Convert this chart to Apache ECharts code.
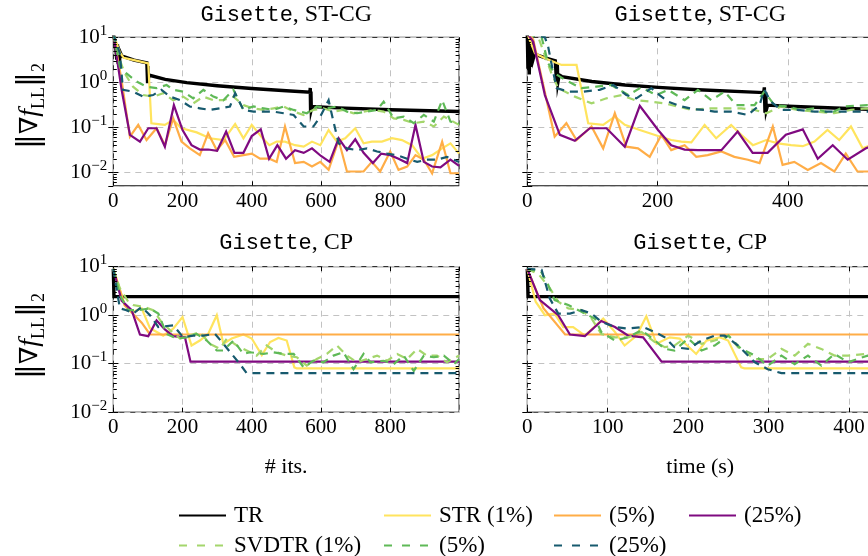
<!DOCTYPE html>
<html><head><meta charset="utf-8">
<script src="https://cdn.jsdelivr.net/npm/echarts@6/dist/echarts.min.js"></script>
<style>html,body{margin:0;padding:0;background:#fff}#c{width:868px;height:556px}</style>
</head><body><div id="c"></div>
<script>
// ---------- DATA ----------
// Panel 1: Gisette, ST-CG vs iterations
const stcgIts_TR = [[0,12],[6,7.5],[10,3.2],[12,7.0],[14,2.6],[16,5.5],[18,3.0],[20,4.6],[24,3.9],[30,3.7],[60,3.1],[97,2.7],[98,2.95],[99,0.95],[100,2.3],[101,1.0],[102,1.45],[104,1.35],[150,1.16],[212,0.98],[300,0.84],[400,0.73],[500,0.65],[568,0.60],[569,0.75],[570,0.22],[571,0.62],[572,0.25],[574,0.29],[650,0.27],[800,0.245],[999,0.225]];
const stcgIts_STR1 = [[0,12],[19,4.6],[30,3.5],[60,3.1],[101,2.64],[110,0.123],[130,0.118],[149,0.113],[173,0.146],[197,0.095],[241,0.077],[279,0.057],[318,0.052],[352,0.118],[376,0.057],[400,0.113],[429,0.060],[451,0.040],[472,0.048],[496,0.048],[525,0.040],[550,0.037],[574,0.048],[598,0.040],[622,0.087],[646,0.048],[670,0.057],[699,0.095],[723,0.044],[747,0.048],[776,0.048],[805,0.057],[834,0.052],[863,0.040],[892,0.020],[921,0.024],[950,0.034],[974,0.044],[999,0.026]];
const stcgIts_STR5 = [[0,12],[24,1.1],[48,0.062],[72,0.113],[96,0.052],[125,0.095],[149,0.040],[173,0.158],[197,0.048],[221,0.034],[250,0.024],[274,0.074],[299,0.031],[323,0.052],[349,0.022],[376,0.024],[400,0.026],[424,0.020],[451,0.020],[472,0.017],[496,0.104],[525,0.016],[550,0.017],[574,0.0134],[598,0.017],[622,0.0113],[651,0.052],[675,0.0104],[699,0.0104],[723,0.0104],[747,0.017],[771,0.0104],[800,0.029],[824,0.0113],[849,0.0134],[873,0.024],[897,0.019],[921,0.0095],[950,0.048],[974,0.0095],[999,0.0095]];
const stcgIts_STR25 = [[0,12],[24,0.68],[48,0.068],[77,0.048],[101,0.095],[125,0.095],[149,0.037],[175,0.31],[200,0.087],[226,0.040],[250,0.032],[274,0.032],[300,0.030],[326,0.080],[350,0.027],[376,0.027],[400,0.064],[426,0.090],[450,0.020],[474,0.040],[499,0.020],[525,0.031],[550,0.027],[574,0.034],[600,0.023],[625,0.017],[651,0.057],[675,0.031],[699,0.054],[723,0.027],[750,0.016],[774,0.026],[800,0.024],[824,0.020],[849,0.016],[873,0.113],[897,0.017],[921,0.0134],[945,0.0129],[974,0.019],[999,0.0138]];
const stcgIts_SVD1 = [[0,12],[19,3.13],[33,1.58],[57,0.80],[86,0.52],[115,0.48],[144,0.57],[173,0.40],[202,0.48],[231,0.34],[260,0.48],[289,0.40],[318,0.40],[347,0.48],[376,0.31],[405,0.264],[434,0.243],[463,0.264],[492,0.29],[521,0.223],[550,0.188],[578,0.243],[607,0.264],[636,0.223],[665,0.243],[694,0.205],[723,0.223],[752,0.243],[781,0.223],[810,0.158],[839,0.146],[868,0.123],[897,0.134],[926,0.104],[955,0.173],[999,0.113]];
const stcgIts_SVD5 = [[0,12],[19,2.23],[38,1.58],[67,1.04],[96,0.80],[125,0.74],[154,0.87],[173,0.68],[202,0.62],[231,0.44],[260,0.68],[289,0.48],[318,0.40],[347,0.68],[376,0.243],[405,0.29],[434,0.264],[463,0.243],[492,0.29],[521,0.243],[559,0.205],[588,0.29],[617,0.264],[646,0.29],[675,0.223],[704,0.205],[733,0.223],[762,0.243],[781,0.37],[810,0.158],[839,0.173],[868,0.123],[897,0.188],[926,0.134],[950,0.40],[974,0.134],[999,0.123]];
const stcgIts_SVD25 = [[0,12],[19,4.41],[28,0.68],[57,0.62],[86,0.48],[115,0.52],[139,0.68],[164,0.48],[193,0.40],[221,0.29],[250,0.264],[279,0.243],[308,0.264],[337,0.29],[352,0.57],[376,0.243],[405,0.223],[434,0.223],[463,0.223],[492,0.205],[521,0.188],[550,0.104],[578,0.104],[598,0.173],[622,0.40],[636,0.134],[651,0.044],[675,0.034],[704,0.031],[733,0.034],[762,0.029],[791,0.026],[820,0.024],[849,0.020],[878,0.017],[906,0.019],[935,0.019],[964,0.022],[999,0.017]];

// Panel 2: Gisette, ST-CG vs time (s)
const stcgTime_TR = [[0,12],[1,2.0],[2,9],[3,1.5],[4,6],[5,2.2],[6,8],[7,2.8],[8,5],[9,3.3],[11,4.2],[14,3.9],[30,3.4],[43,3.0],[44,3.2],[45,0.95],[46,2.6],[47,1.0],[49,1.45],[53,1.34],[99,1.04],[150,0.87],[201,0.77],[262,0.68],[363,0.59],[364,0.77],[365,0.21],[366,0.6],[367,0.24],[369,0.31],[410,0.29],[531,0.25]];
const stcgTime_STR1 = [[0,12],[11.7,4.41],[27,3.41],[52.6,2.43],[75.6,2.43],[93.5,0.123],[116.5,0.113],[134.4,0.173],[149.7,0.113],[172.7,0.087],[200.8,0.064],[221,0.052],[236.5,0.048],[251.9,0.046],[272.3,0.113],[290,0.057],[313,0.113],[328.5,0.068],[346.4,0.040],[366.8,0.052],[384.7,0.044],[405,0.040],[423,0.038],[441,0.048],[461,0.087],[479,0.052],[497,0.104],[515,0.034],[531,0.042]];
const stcgTime_STR5 = [[0,12],[9,9],[42,0.062],[60,0.123],[75.6,0.052],[98.6,0.104],[116.5,0.034],[134.4,0.205],[152,0.037],[170,0.034],[188,0.022],[206,0.068],[221,0.031],[241.6,0.040],[259.5,0.022],[277,0.024],[298,0.029],[318,0.022],[338.7,0.019],[356.6,0.016],[377,0.104],[392,0.0146],[410,0.017],[430.7,0.0113],[451,0.016],[471.5,0.0104],[489,0.026],[507,0.0104],[531,0.0104]];
const stcgTime_STR25 = [[0,12],[9,8],[27,0.52],[50,0.068],[73,0.050],[96,0.095],[121.6,0.095],[149.7,0.037],[172.7,0.30],[200.8,0.087],[221,0.040],[241.6,0.032],[262,0.031],[277,0.031],[298,0.031],[323,0.080],[346,0.027],[369,0.027],[397,0.068],[423,0.090],[446,0.020],[469,0.040],[492,0.019],[520,0.034],[531,0.040]];
const stcgTime_SVD1 = [[0,12],[17,10],[37,1.58],[47.5,0.74],[73,0.48],[98.6,0.34],[121.6,0.44],[144.6,0.52],[165,0.40],[190.5,0.37],[211,0.34],[231,0.29],[252,0.243],[277,0.264],[303,0.264],[328.5,0.264],[349,0.243],[367,0.205],[390,0.29],[415,0.243],[441,0.223],[471.5,0.205],[497,0.243],[520,0.264],[531,0.25]];
const stcgTime_SVD5 = [[0,12],[22,10],[32,2.64],[42,1.58],[58,1.13],[83,0.74],[106,0.80],[129,0.87],[155,0.52],[175,0.77],[198,0.52],[216,0.68],[241.6,0.40],[262,0.68],[282.5,0.40],[303,0.62],[321,0.31],[349,0.31],[364,0.62],[379.6,0.31],[400,0.29],[420,0.243],[441,0.264],[466,0.205],[487,0.29],[522,0.31],[531,0.30]];
const stcgTime_SVD25 = [[0,12],[27,10],[32,6.2],[37,2.64],[45,0.74],[63,0.62],[86,0.62],[111,0.68],[132,0.87],[152,0.52],[167.5,0.44],[190.5,0.74],[203,0.52],[216,0.37],[236.5,0.29],[257,0.25],[272,0.243],[287.6,0.223],[313,0.223],[338.7,0.188],[356.6,0.31],[364,0.68],[374,0.37],[390,0.243],[415,0.243],[441,0.223],[466,0.223],[492,0.223],[531,0.223]];

// Panel 3: Gisette, CP vs iterations
const cpIts_TR = [[0,9],[2,2.41],[999,2.41]];
const cpIts_STR1 = [[0,9],[33,1.62],[57,1.17],[82,1.38],[106,0.54],[144,0.38],[173,0.53],[200,0.92],[226,0.237],[250,0.30],[274,0.41],[299,1.0],[318,0.257],[342,0.33],[376,0.40],[400,0.33],[429,0.15],[453,0.28],[477,0.34],[501,0.30],[523,0.084],[530,0.080],[999,0.080]];
const cpIts_STR5 = [[0,9],[33,1.6],[82,0.7],[106,0.40],[999,0.40]];
const cpIts_STR25 = [[0,9],[24,2.0],[53,1.27],[77,0.40],[101,0.37],[125,0.78],[149,0.51],[173,0.37],[207,0.35],[223,0.11],[999,0.11]];
const cpIts_SVD1 = [[0,9],[19,3.59],[43,1.90],[57,1.62],[86,1.50],[115,1.27],[139,0.73],[164,0.49],[193,0.33],[221,0.38],[250,0.45],[279,0.257],[308,0.202],[328,0.33],[357,0.237],[385,0.187],[414,0.147],[443,0.237],[472,0.172],[501,0.147],[530,0.136],[559,0.091],[588,0.125],[617,0.159],[646,0.237],[675,0.147],[704,0.107],[733,0.125],[762,0.147],[791,0.115],[820,0.159],[849,0.125],[878,0.202],[906,0.147],[935,0.147],[964,0.107],[999,0.147]];
const cpIts_SVD5 = [[0,9],[19,2.6],[43,1.27],[72,1.27],[106,1.38],[130,1.08],[154,0.41],[183,0.33],[212,0.35],[241,0.41],[270,0.30],[299,0.187],[318,0.187],[347,0.30],[376,0.159],[395,0.172],[434,0.159],[463,0.172],[492,0.159],[521,0.159],[550,0.084],[578,0.115],[607,0.107],[636,0.147],[665,0.172],[694,0.077],[723,0.159],[743,0.107],[781,0.115],[810,0.098],[839,0.147],[868,0.071],[897,0.147],[926,0.136],[955,0.147],[984,0.098],[999,0.125]];
const cpIts_SVD25 = [[0,9],[19,1.38],[38,1.27],[57,1.08],[82,1.47],[106,1.0],[130,0.57],[173,0.62],[202,0.35],[231,0.38],[260,0.38],[294,0.41],[318,0.257],[342,0.159],[366,0.098],[385,0.064],[999,0.064]];

// Panel 4: Gisette, CP vs time (s)
const cpTime_TR = [[0,9],[1,2.41],[431,2.41]];
const cpTime_STR1 = [[0,9],[10.4,1.90],[22,1.0],[34,1.08],[44.7,0.57],[57,0.57],[71.6,0.38],[94.4,0.85],[109,0.45],[121,0.237],[136,0.38],[148,0.95],[160.7,0.257],[177,0.35],[189.6,0.33],[210,0.159],[222.8,0.30],[239,0.35],[249.7,0.30],[266,0.084],[270,0.080],[431,0.080]];
const cpTime_STR5 = [[0,9],[20,1.4],[47,0.40],[431,0.40]];
const cpTime_STR25 = [[0,9],[15.7,2.05],[38.5,1.0],[53,0.40],[71.6,0.37],[92,0.76],[109,0.57],[125.5,0.38],[144,0.35],[167,0.11],[431,0.11]];
const cpTime_SVD1 = [[0,9],[14,7],[28,3.6],[38.5,1.90],[51,1.38],[67.5,1.27],[80,0.85],[92,0.41],[109,0.35],[125.5,0.35],[142,0.45],[158.6,0.28],[171,0.219],[183,0.237],[200,0.38],[216.6,0.257],[233,0.30],[250,0.38],[262,0.219],[283,0.125],[299,0.125],[316,0.202],[332.5,0.147],[349,0.257],[365.6,0.202],[382,0.147],[398.8,0.147],[423,0.159],[431,0.16]];
const cpTime_SVD5 = [[0,9],[17,8],[26,4.2],[34,2.05],[51,1.62],[67.5,1.17],[84,0.85],[92,0.45],[109,0.30],[125.5,0.35],[142,0.49],[158.6,0.30],[171,0.202],[183,0.187],[200,0.33],[216.6,0.187],[233,0.237],[250,0.38],[266,0.202],[283,0.147],[299,0.091],[316,0.147],[332.5,0.098],[349,0.147],[365.6,0.091],[382,0.159],[398.8,0.107],[423,0.147],[431,0.13]];
const cpTime_SVD25 = [[0,9],[17.8,8.6],[28,2.2],[38.5,1.08],[53,1.08],[67.5,1.27],[80,1.08],[92,0.73],[109,0.57],[125.5,0.53],[144,0.57],[158.6,0.45],[171,0.35],[183,0.219],[200,0.202],[216.6,0.30],[233,0.38],[245.5,0.38],[262,0.237],[283,0.107],[299,0.077],[316,0.064],[431,0.064]];

// Axis ranges and tick values
const xMaxes = [999, 531, 999, 430];
const xIntervals = [200, 200, 200, 100];
const yMins = [0.005, 0.005, 0.01, 0.01];
const yMax = 10;
const minorTicksTop = [0.006,0.007,0.008,0.009,0.02,0.03,0.04,0.05,0.06,0.07,0.08,0.09,0.2,0.3,0.4,0.5,0.6,0.7,0.8,0.9,2,3,4,5,6,7,8,9];
const minorTicksBottom = [0.02,0.03,0.04,0.05,0.06,0.07,0.08,0.09,0.2,0.3,0.4,0.5,0.6,0.7,0.8,0.9,2,3,4,5,6,7,8,9];

const seriesNames = ['TR','STR (1%)','STR (5%)','STR (25%)','SVDTR (1%)','SVDTR (5%)','SVDTR (25%)'];
const legendLabels = ['TR','STR (1%)','(5%)','(25%)','SVDTR (1%)','(5%)','(25%)'];
const titleMethods = ['ST-CG','ST-CG','CP','CP'];

const panelData = [
  [stcgIts_TR, stcgIts_STR1, stcgIts_STR5, stcgIts_STR25, stcgIts_SVD1, stcgIts_SVD5, stcgIts_SVD25],
  [stcgTime_TR, stcgTime_STR1, stcgTime_STR5, stcgTime_STR25, stcgTime_SVD1, stcgTime_SVD5, stcgTime_SVD25],
  [cpIts_TR, cpIts_STR1, cpIts_STR5, cpIts_STR25, cpIts_SVD1, cpIts_SVD5, cpIts_SVD25],
  [cpTime_TR, cpTime_STR1, cpTime_STR5, cpTime_STR25, cpTime_SVD1, cpTime_SVD5, cpTime_SVD25]
];

// ---------- STYLE / LAYOUT ----------
const SERIF = 'Liberation Serif';
const MONO = 'Liberation Mono';
const DASH = [8, 6];
const lineStyles = [
  {color:'#000000', width:3.4, type:'solid'},
  {color:'#ffe45e', width:2.2, type:'solid'},
  {color:'#ffad47', width:2.2, type:'solid'},
  {color:'#7f0a80', width:2.2, type:'solid'},
  {color:'#a4d66c', width:2.2, type:DASH},
  {color:'#5fb957', width:2.2, type:DASH},
  {color:'#175a6e', width:2.2, type:DASH}
];
const grids = [
  {left:113.3, top:37.3, width:345.8, height:148.5},
  {left:527.3, top:37.3, width:345.8, height:148.5},
  {left:113.3, top:266.7, width:345.8, height:145.5},
  {left:527.3, top:266.7, width:345.8, height:145.5}
];

function powLabel(v){
  const e = Math.round(Math.log10(v));
  return '{b|10}{s|' + (e < 0 ? '\u2212' + (-e) : e) + '}';
}
const powRich = {
  b:{fontFamily:SERIF, fontSize:21, color:'#000', lineHeight:28},
  s:{fontFamily:SERIF, fontSize:15, color:'#000', lineHeight:15, verticalAlign:'top'}
};

const option = {
  animation:false,
  backgroundColor:'#fff',
  textStyle:{fontFamily:SERIF},
  grid: grids.map(g => Object.assign({show:true, borderColor:'#000', borderWidth:1, backgroundColor:'transparent', containLabel:false, outerBoundsMode:'none'}, g)),
  xAxis: [], yAxis: [], series: [], legend: [], graphic: []
};

for (let p = 0; p < 4; p++) {
  const isLeft = (p % 2 === 0);
  option.xAxis.push({
    gridIndex:p, type:'value', position:'bottom', min:0, max:xMaxes[p], interval:xIntervals[p],
    axisLine:{show:false},
    axisTick:{show:true, inside:true, length:4.5, lineStyle:{color:'#000', width:1}},
    axisLabel:{show:true, showMaxLabel:false, margin:5, fontFamily:SERIF, fontSize:21, color:'#000'},
    splitLine:{show:true, lineStyle:{color:'#c2c2c2', width:1, type:[6,5]}}
  });
  option.xAxis.push({
    gridIndex:p, type:'value', position:'top', min:0, max:xMaxes[p], interval:xIntervals[p],
    axisLine:{show:false},
    axisTick:{show:true, inside:true, length:4.5, lineStyle:{color:'#000', width:1}},
    axisLabel:{show:false}, splitLine:{show:false}
  });
  option.yAxis.push({
    gridIndex:p, type:'log', logBase:10, position:'left', min:yMins[p], max:yMax,
    axisLine:{show:false},
    axisTick:{show:true, inside:true, length:5, lineStyle:{color:'#000', width:1}},
    axisLabel:{show:isLeft, showMinLabel: yMins[p] >= 0.01, margin:6, fontFamily:SERIF, formatter:powLabel, rich:powRich},
    splitLine:{show:true, lineStyle:{color:'#c2c2c2', width:1, type:[6,5]}}
  });
  option.yAxis.push({
    gridIndex:p, type:'log', logBase:10, position:'right', min:yMins[p], max:yMax,
    axisLine:{show:false},
    axisTick:{show:true, inside:true, length:5, lineStyle:{color:'#000', width:1}},
    axisLabel:{show:false}, splitLine:{show:false}
  });
  panelData[p].forEach((d, i) => {
    const st = lineStyles[i];
    option.series.push({
      type:'line', name:seriesNames[i], xAxisIndex:2*p, yAxisIndex:2*p, data:d,
      symbol:'none', showSymbol:false, clip:true, z:3+i,
      lineStyle:{color:st.color, width:st.width, type:st.type, cap:'butt', join:'miter'},
      itemStyle:{color:st.color}, emphasis:{disabled:true}
    });
  });
  const minors = (yMins[p] < 0.01 ? minorTicksTop : minorTicksBottom).map(v => [0, v]);
  option.series.push({
    type:'custom', xAxisIndex:2*p, yAxisIndex:2*p, data:minors, silent:true, z:20,
    renderItem:function(params, api){
      const pt = api.coord([api.value(0), api.value(1)]);
      const cs = params.coordSys;
      const y = Math.round(pt[1]) + 0.5;
      return {type:'group', children:[
        {type:'line', shape:{x1:cs.x, y1:y, x2:cs.x + 3.5, y2:y}, style:{stroke:'#000', lineWidth:1}},
        {type:'line', shape:{x1:cs.x + cs.width - 3.5, y1:y, x2:cs.x + cs.width, y2:y}, style:{stroke:'#000', lineWidth:1}}
      ]};
    }
  });
}

// Legend: two rows
const legendPos = [[178,511],[383,511],[553,511],[688,511],[178,541],[383,541],[553,541]];
seriesNames.forEach((n, i) => {
  const leg = {
    data:[n], left:legendPos[i][0], top:legendPos[i][1] - 7, itemWidth:47, itemHeight:14, padding:0,
    selectedMode:false, formatter:function(){ return legendLabels[i]; },
    itemStyle:{opacity:0, borderWidth:0},
    textStyle:{fontFamily:SERIF, fontSize:23, color:'#000', padding:[0,0,0,3]}
  };
  if (Array.isArray(lineStyles[i].type)) leg.lineStyle = {type:[8,10]};
  option.legend.push(leg);
});

// Titles
const titleRich = {
  tt:{fontFamily:MONO, fontSize:22, fill:'#000'},
  rm:{fontFamily:SERIF, fontSize:24, fill:'#000'}
};
grids.forEach((g, p) => {
  option.graphic.push({
    type:'text', x:g.left + g.width/2, y:(p < 2 ? 15 : 243),
    style:{text:'{tt|Gisette}{rm|, ' + titleMethods[p] + '}', rich:titleRich, align:'center', verticalAlign:'middle'}
  });
});
// X axis names
option.graphic.push({type:'text', x:grids[2].left + grids[2].width/2, y:467, style:{text:'# its.', fontFamily:SERIF, fontSize:22, fill:'#000', align:'center', verticalAlign:'middle'}});
option.graphic.push({type:'text', x:grids[3].left + grids[3].width/2, y:467, style:{text:'time (s)', fontFamily:SERIF, fontSize:22, fill:'#000', align:'center', verticalAlign:'middle'}});
// Y axis names
const yNameRich = {
  n:{fontFamily:'DejaVu Serif', fontSize:30, fill:'#000', lineHeight:36},
  d:{fontFamily:'DejaVu Serif', fontSize:25, fill:'#000', lineHeight:36},
  i:{fontFamily:SERIF, fontStyle:'italic', fontSize:28, fill:'#000', lineHeight:36},
  s:{fontFamily:SERIF, fontSize:18, fill:'#000', lineHeight:18, verticalAlign:'bottom'}
};
[[30,106],[30,336]].forEach(pos => {
  option.graphic.push({
    type:'text', x:pos[0], y:pos[1], rotation:Math.PI/2,
    style:{text:'{n|\u2016}{d|\u2207}{i|f}{s|LL}{n|\u2016}{s|2}', rich:yNameRich, align:'center', verticalAlign:'middle'}
  });
});

const chart = echarts.init(document.getElementById('c'), null, {renderer:'canvas'});
chart.setOption(option);
</script></body></html>
